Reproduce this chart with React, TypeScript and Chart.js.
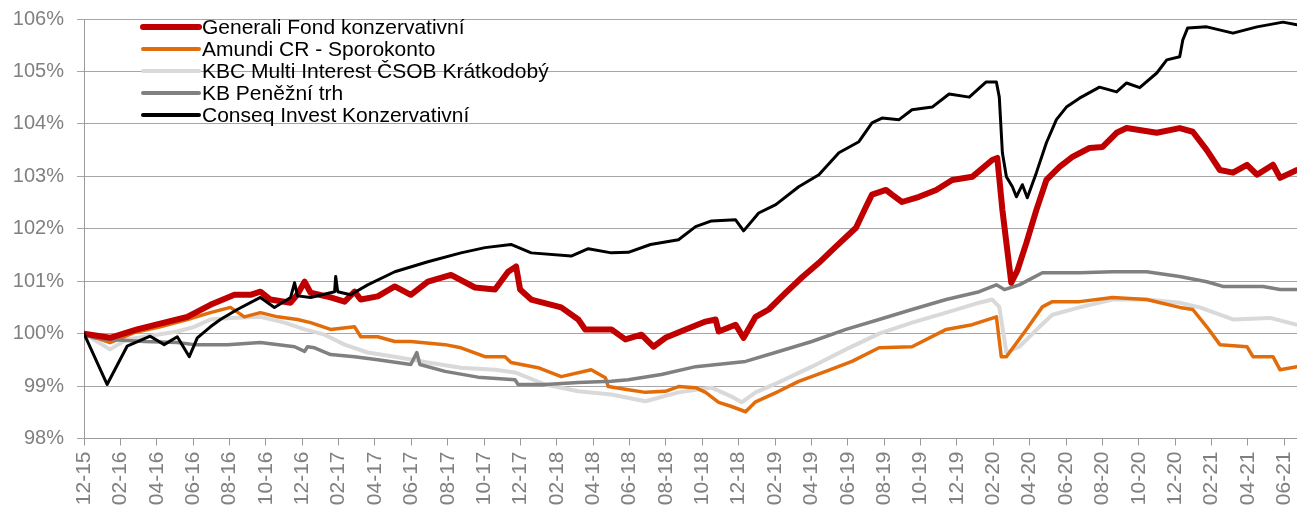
import React, { useEffect, useRef } from 'react';
import { Chart, registerables } from 'chart.js';

Chart.register(...registerables);

const FONT = '"Liberation Sans", Arial, Helvetica, sans-serif';

const seriesNames = [
  'Generali Fond konzervativní',
  'Amundi CR - Sporokonto',
  'KBC Multi Interest ČSOB Krátkodobý',
  'KB Peněžní trh',
  'Conseq Invest Konzervativní',
];
const seriesColors = ['#C00000', '#E36C0A', '#D9D9D9', '#808080', '#000000'];
const seriesWidths = [6, 3.5, 4, 3.5, 3];
const seriesOrder = [1, 3, 4, 2, 0];

const xTickLabels = [
  '12-15', '02-16', '04-16', '06-16', '08-16', '10-16', '12-16', '02-17', '04-17', '06-17',
  '08-17', '10-17', '12-17', '02-18', '04-18', '06-18', '08-18', '10-18', '12-18', '02-19',
  '04-19', '06-19', '08-19', '10-19', '12-19', '02-20', '04-20', '06-20', '08-20', '10-20',
  '12-20', '02-21', '04-21', '06-21',
];

// x = months since 12-2015, y = value in %
const generaliMonths = [0, 1.43, 2.92, 4.41, 5.68, 6.95, 8.27, 9.15, 9.7, 10.25, 11.36, 11.74, 12.13, 12.46, 13.56, 14.33, 14.88, 15.22, 16.15, 17.09, 17.97, 18.91, 20.18, 21.5, 22.6, 23.32, 23.76, 23.98, 24.59, 26.24, 27.18, 27.56, 29.0, 29.77, 30.65, 31.31, 31.97, 33.08, 34.18, 34.73, 34.9, 35.83, 36.27, 36.93, 37.65, 38.59, 39.47, 40.41, 41.34, 42.45, 43.0, 43.33, 44.1, 44.43, 44.98, 45.92, 46.86, 47.74, 48.84, 49.94, 50.22, 50.5, 50.72, 50.99, 51.32, 51.82, 52.37, 52.92, 53.64, 54.35, 55.29, 56.01, 56.78, 57.33, 58.99, 60.25, 60.97, 61.74, 62.46, 63.18, 63.95, 64.5, 65.38, 65.77, 66.7];
const generaliValues = [100.0, 99.92, 100.08, 100.21, 100.32, 100.55, 100.74, 100.74, 100.8, 100.65, 100.59, 100.75, 100.99, 100.78, 100.69, 100.61, 100.8, 100.65, 100.71, 100.9, 100.74, 100.99, 101.12, 100.88, 100.84, 101.18, 101.28, 100.84, 100.65, 100.5, 100.27, 100.08, 100.08, 99.89, 99.98, 99.75, 99.92, 100.08, 100.23, 100.27, 100.04, 100.17, 99.92, 100.32, 100.46, 100.78, 101.07, 101.35, 101.66, 102.02, 102.42, 102.65, 102.74, 102.65, 102.51, 102.61, 102.74, 102.93, 102.99, 103.31, 103.35, 102.36, 101.73, 100.97, 101.2, 101.73, 102.36, 102.93, 103.18, 103.37, 103.54, 103.56, 103.83, 103.92, 103.83, 103.92, 103.85, 103.5, 103.12, 103.07, 103.22, 103.03, 103.22, 102.97, 103.12];

const amundiMonths = [0, 1.43, 2.76, 4.19, 5.68, 6.95, 8.05, 8.82, 9.7, 10.64, 11.74, 12.46, 13.56, 14.88, 15.22, 16.15, 17.09, 17.97, 19.85, 20.73, 22.05, 23.15, 23.48, 24.97, 26.24, 27.89, 28.67, 28.83, 29.93, 30.87, 31.97, 32.69, 33.63, 34.18, 34.9, 35.61, 36.38, 36.93, 38.2, 39.3, 40.79, 42.23, 43.72, 45.53, 47.41, 48.84, 50.17, 50.44, 50.72, 51.82, 52.7, 53.25, 54.74, 56.56, 58.43, 60.25, 60.97, 61.74, 62.46, 63.95, 64.28, 65.38, 65.77, 66.7];
const amundiValues = [100.0, 99.83, 100.02, 100.13, 100.27, 100.4, 100.5, 100.32, 100.4, 100.32, 100.27, 100.21, 100.08, 100.13, 99.94, 99.94, 99.85, 99.85, 99.79, 99.73, 99.56, 99.56, 99.45, 99.35, 99.18, 99.31, 99.16, 98.99, 98.93, 98.88, 98.9, 98.99, 98.97, 98.88, 98.69, 98.61, 98.51, 98.7, 98.9, 99.09, 99.28, 99.47, 99.73, 99.75, 100.08, 100.17, 100.32, 99.56, 99.56, 100.08, 100.51, 100.61, 100.61, 100.69, 100.65, 100.5, 100.46, 100.13, 99.79, 99.75, 99.56, 99.56, 99.31, 99.37];

const kbcMonths = [0, 1.43, 2.37, 3.31, 5.13, 6.06, 6.95, 8.05, 9.7, 11.03, 12.13, 13.23, 14.33, 15.6, 17.09, 18.91, 20.73, 22.6, 23.7, 25.36, 27.18, 29.0, 30.87, 32.69, 34.51, 35.61, 36.16, 36.93, 38.2, 40.02, 41.9, 43.72, 45.53, 47.41, 49.23, 49.94, 50.33, 50.72, 51.43, 52.54, 53.25, 54.74, 56.56, 58.43, 60.25, 61.35, 63.18, 65.22, 66.7];
const kbcValues = [100.0, 99.7, 99.89, 99.94, 100.04, 100.13, 100.27, 100.3, 100.32, 100.21, 100.08, 99.98, 99.79, 99.64, 99.56, 99.45, 99.35, 99.31, 99.26, 99.03, 98.9, 98.84, 98.71, 98.88, 98.97, 98.8, 98.69, 98.88, 99.07, 99.37, 99.7, 100.0, 100.21, 100.4, 100.59, 100.65, 100.51, 99.64, 99.75, 100.13, 100.36, 100.5, 100.65, 100.65, 100.59, 100.5, 100.27, 100.3, 100.17];

const kbMonths = [0, 0.55, 1.43, 3.31, 5.13, 6.06, 7.88, 9.7, 11.58, 12.13, 12.29, 12.68, 13.56, 14.88, 16.15, 17.97, 18.3, 18.47, 19.85, 21.66, 23.7, 23.87, 25.36, 27.18, 29.0, 29.93, 31.75, 33.63, 36.38, 38.2, 40.02, 41.9, 43.72, 45.53, 47.41, 49.23, 50.17, 50.61, 51.43, 51.98, 52.7, 54.74, 56.56, 58.43, 60.25, 61.74, 62.62, 64.83, 65.77, 66.7];
const kbValues = [100.0, 99.92, 99.89, 99.85, 99.83, 99.79, 99.79, 99.83, 99.75, 99.66, 99.75, 99.73, 99.6, 99.56, 99.5, 99.41, 99.64, 99.41, 99.28, 99.17, 99.12, 99.03, 99.03, 99.07, 99.09, 99.12, 99.22, 99.37, 99.47, 99.66, 99.85, 100.08, 100.27, 100.46, 100.65, 100.8, 100.93, 100.84, 100.93, 101.03, 101.16, 101.16, 101.18, 101.18, 101.09, 100.99, 100.9, 100.9, 100.84, 100.84];

const conseqMonths = [0, 1.27, 2.37, 3.64, 4.41, 5.13, 5.79, 6.23, 6.95, 7.5, 8.43, 9.7, 10.47, 11.36, 11.58, 11.74, 12.46, 13.78, 13.84, 13.95, 14.66, 15.6, 17.09, 18.91, 20.73, 22.05, 23.48, 24.59, 26.79, 27.73, 29.0, 29.93, 31.15, 32.69, 33.63, 34.51, 35.83, 36.27, 37.1, 38.04, 39.3, 40.41, 41.51, 42.61, 43.33, 43.88, 44.82, 45.53, 46.64, 47.57, 48.68, 49.61, 50.17, 50.33, 50.5, 50.72, 51.05, 51.27, 51.6, 51.87, 52.37, 52.92, 53.47, 54.02, 54.74, 55.84, 56.78, 57.33, 58.05, 58.99, 59.54, 60.25, 60.42, 60.69, 61.74, 63.18, 64.5, 65.93, 66.7];
const conseqValues = [100.0, 99.03, 99.76, 99.95, 99.79, 99.94, 99.56, 99.92, 100.13, 100.27, 100.46, 100.69, 100.5, 100.69, 100.97, 100.72, 100.69, 100.8, 101.09, 100.8, 100.74, 100.93, 101.18, 101.37, 101.54, 101.64, 101.7, 101.54, 101.48, 101.62, 101.54, 101.55, 101.7, 101.79, 102.04, 102.15, 102.17, 101.96, 102.3, 102.46, 102.8, 103.03, 103.45, 103.66, 104.02, 104.11, 104.08, 104.27, 104.32, 104.57, 104.51, 104.8, 104.8, 104.51, 103.45, 102.99, 102.8, 102.61, 102.84, 102.59, 103.07, 103.64, 104.08, 104.32, 104.49, 104.7, 104.61, 104.78, 104.69, 104.97, 105.22, 105.28, 105.6, 105.83, 105.85, 105.73, 105.85, 105.94, 105.89];

const seriesMonths = [generaliMonths, amundiMonths, kbcMonths, kbMonths, conseqMonths];
const seriesValues = [generaliValues, amundiValues, kbcValues, kbValues, conseqValues];

const xMin = 0;
const xMax = 66.7;
const yMin = 98;
const yMax = 106;

const insideLegend = {
  id: 'insideLegend',
  afterDatasetsDraw(chart: any) {
    const ctx = chart.ctx as CanvasRenderingContext2D;
    ctx.save();
    ctx.font = `21px ${FONT}`;
    ctx.textBaseline = 'middle';
    ctx.textAlign = 'left';
    chart.data.datasets.forEach((ds: any, i: number) => {
      const y = 27 + i * 22;
      ctx.strokeStyle = ds.borderColor;
      ctx.lineWidth = Math.max(ds.borderWidth, 4);
      ctx.lineCap = 'round';
      ctx.beginPath();
      ctx.moveTo(143, y);
      ctx.lineTo(199, y);
      ctx.stroke();
      ctx.fillStyle = '#000000';
      ctx.fillText(ds.label, 202, y + 1);
    });
    ctx.restore();
  },
};

export default function App() {
  const ref = useRef<HTMLCanvasElement | null>(null);

  useEffect(() => {
    if (!ref.current) return;
    const datasets = seriesNames.map((name, i) => ({
      label: name,
      data: seriesMonths[i].map((m, j) => ({ x: m, y: seriesValues[i][j] })),
      borderColor: seriesColors[i],
      backgroundColor: seriesColors[i],
      borderWidth: seriesWidths[i],
      order: seriesOrder[i],
      pointRadius: 0,
      pointHoverRadius: 0,
      tension: 0,
      fill: false,
      borderJoinStyle: 'round' as const,
      borderCapStyle: 'round' as const,
    }));

    const chart = new Chart(ref.current, {
      type: 'line',
      data: { datasets },
      options: {
        responsive: false,
        animation: false,
        devicePixelRatio: 1,
        layout: { padding: { top: 19, left: 0, right: 0, bottom: 0 } },
        plugins: {
          legend: { display: false },
          tooltip: { enabled: false },
        },
        scales: {
          x: {
            type: 'linear',
            min: xMin,
            max: xMax,
            afterFit: (s: any) => {
              s.height = 69.5;
              s.paddingLeft = 0;
              s.paddingRight = 0;
            },
            ticks: {
              stepSize: 2,
              autoSkip: false,
              includeBounds: false,
              maxRotation: 90,
              minRotation: 90,
              padding: 6,
              color: '#808080',
              font: { family: FONT, size: 21 },
              callback: (value: any) => xTickLabels[Math.round(Number(value) / 2)] ?? '',
            },
            grid: {
              drawOnChartArea: false,
              drawTicks: true,
              tickLength: 7,
              color: '#999999',
            },
            border: { display: true, color: '#999999', width: 1 },
          },
          y: {
            type: 'linear',
            min: yMin,
            max: yMax,
            afterFit: (s: any) => {
              s.width = 84;
              s.paddingTop = 0;
              s.paddingBottom = 0;
            },
            ticks: {
              stepSize: 1,
              padding: 13,
              color: '#808080',
              font: { family: FONT, size: 20 },
              callback: (value: any) => `${value}%`,
            },
            grid: {
              color: '#a6a6a6',
              drawTicks: true,
              tickLength: 7,
            },
            border: { display: true, color: '#999999', width: 1 },
          },
        },
      },
      plugins: [insideLegend],
    });
    return () => chart.destroy();
  }, []);

  return (
    <div style={{ position: 'fixed', left: 0, top: 0, width: 1297, height: 508, background: '#ffffff' }}>
      <canvas ref={ref} width={1297} height={508} style={{ display: 'block' }} />
    </div>
  );
}
